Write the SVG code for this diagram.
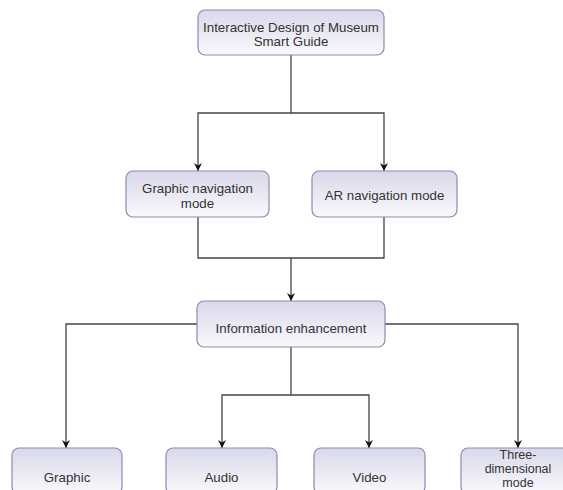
<svg xmlns="http://www.w3.org/2000/svg" width="563" height="490" viewBox="0 0 563 490">
<defs>
<linearGradient id="g" x1="0" y1="0" x2="0" y2="1">
<stop offset="0" stop-color="#d9d8ea"/>
<stop offset="1" stop-color="#f9f9fc"/>
</linearGradient>
<marker id="arr" viewBox="0 0 10 10" refX="10" refY="5" markerWidth="8" markerHeight="8" markerUnits="userSpaceOnUse" orient="auto">
<path d="M0,0 L10,5 L0,10 L3,5 z" fill="#111"/>
</marker>
<style>
.box{fill:url(#g);stroke:#8e8aae;stroke-width:1.2}
.t{font-family:"Liberation Sans",Arial,sans-serif;font-size:13.3px;fill:#333;text-anchor:middle}
.s{font-size:12.5px}
.c{fill:none;stroke:#444;stroke-width:1.3}
.a{marker-end:url(#arr)}
</style>
</defs>
<rect width="563" height="490" fill="#fff"/>
<g id="connectors">
<path class="c" d="M291,55 V113"/>
<path class="c a" d="M291,113 H198 V171"/>
<path class="c a" d="M291,113 H384 V171"/>
<path class="c" d="M198,217 V258 H384 V217"/>
<path class="c a" d="M291,258 V301"/>
<path class="c a" d="M197,324 H66 V448"/>
<path class="c a" d="M385,324 H518 V448"/>
<path class="c" d="M291,347 V395"/>
<path class="c a" d="M291,395 H222 V448"/>
<path class="c a" d="M291,395 H369 V448"/>
</g>
<g id="n-top">
<rect class="box" x="198" y="10" width="186" height="45" rx="7"/>
<text class="t" x="291" y="32">Interactive Design of Museum</text>
<text class="t" x="291" y="46">Smart Guide</text>
</g>
<g id="n-graphic-nav">
<rect class="box" x="126" y="171" width="143" height="46" rx="7"/>
<text class="t" x="197.5" y="193">Graphic navigation</text>
<text class="t" x="197.5" y="208">mode</text>
</g>
<g id="n-ar-nav">
<rect class="box" x="312" y="171" width="145" height="46" rx="7"/>
<text class="t" x="384.5" y="200">AR navigation mode</text>
</g>
<g id="n-info">
<rect class="box" x="197" y="301" width="188" height="46" rx="7"/>
<text class="t" x="291" y="333">Information enhancement</text>
</g>
<g id="n-graphic">
<rect class="box" x="12" y="448" width="110" height="46" rx="7"/>
<text class="t" x="67" y="482">Graphic</text>
</g>
<g id="n-audio">
<rect class="box" x="166" y="448" width="111" height="46" rx="7"/>
<text class="t" x="221.5" y="482">Audio</text>
</g>
<g id="n-video">
<rect class="box" x="314" y="448" width="111" height="46" rx="7"/>
<text class="t" x="369.5" y="482">Video</text>
</g>
<g id="n-3d">
<rect class="box" x="461" y="448" width="112" height="46" rx="7"/>
<text class="t s" x="518" y="459">Three-</text>
<text class="t s" x="518" y="473">dimensional</text>
<text class="t s" x="518" y="487">mode</text>
</g>
</svg>
